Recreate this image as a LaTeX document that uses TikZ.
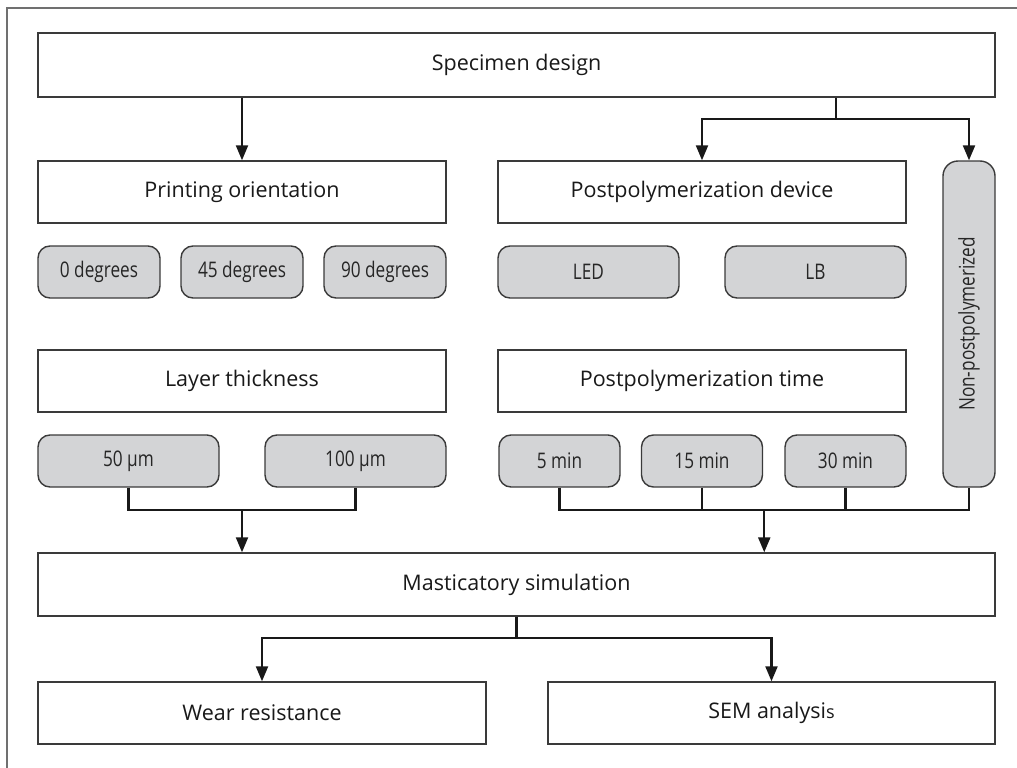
\documentclass[tikz,border=0pt]{standalone}
\usepackage{fontspec}
\setmainfont{Open Sans}
\newfontfamily\condfont{Open Sans}[FakeStretch=0.8]
\usetikzlibrary{arrows.meta}
\definecolor{boxline}{HTML}{3A3A3A}
\definecolor{grayfill}{HTML}{D3D4D6}
\definecolor{framegray}{HTML}{707070}
\begin{document}
\begin{tikzpicture}[x=1pt,y=-1pt,
  hbox/.style={draw=boxline, line width=1.4pt, fill=white, inner sep=0pt,
    font=\fontsize{21.5}{24}\selectfont, text=black!90},
  gbox/.style={draw=boxline, line width=1.4pt, fill=grayfill, rounded corners=12pt,
    inner sep=0pt, font=\condfont\fontsize{21.5}{24}\selectfont, text=black!85},
  conn/.style={line width=2.2pt, draw=black!90},
  arr/.style={conn, -{Triangle[width=12pt,length=15pt]}}]
\useasboundingbox (0,0) rectangle (1017,768);
\draw[framegray, line width=2pt] (7,768) -- (7,8) -- (1017,8);

\node[hbox, minimum width=957pt, minimum height=64pt] (spec) at (516.5,65) {Specimen design};
\node[hbox, minimum width=408pt, minimum height=62pt] (po) at (242,192) {Printing orientation};
\node[hbox, minimum width=408pt, minimum height=62pt] (pd) at (702,192) {Postpolymerization device};
\node[gbox, rounded corners=15pt, minimum width=52pt, minimum height=326pt] (np) at (969,324)
  {\rotatebox{90}{Non-postpolymerized}};

\node[gbox, minimum width=122pt, minimum height=52pt] (g0) at (99,272) {0 degrees};
\node[gbox, minimum width=122pt, minimum height=52pt] (g45) at (242,272) {45 degrees};
\node[gbox, minimum width=122pt, minimum height=52pt] (g90) at (385,272) {90 degrees};
\node[gbox, minimum width=181pt, minimum height=52pt] (led) at (588.5,272) {LED};
\node[gbox, minimum width=181pt, minimum height=52pt] (lb) at (815.5,272) {LB};

\node[hbox, minimum width=408pt, minimum height=62pt] (lt) at (242,381) {Layer thickness};
\node[hbox, minimum width=408pt, minimum height=62pt] (pt) at (702,381) {Postpolymerization time};

\node[gbox, minimum width=181pt, minimum height=52pt] (u50) at (128.5,461) {50 µm};
\node[gbox, minimum width=181pt, minimum height=52pt] (u100) at (355.5,461) {100 µm};
\node[gbox, minimum width=121pt, minimum height=52pt] (m5) at (559.5,461) {5 min};
\node[gbox, minimum width=121pt, minimum height=52pt] (m15) at (702,461) {15 min};
\node[gbox, minimum width=121pt, minimum height=52pt] (m30) at (845.5,461) {30 min};

\node[hbox, minimum width=957pt, minimum height=63pt] (mast) at (516.5,584.5) {Masticatory simulation};
\node[hbox, minimum width=448pt, minimum height=62pt] (wear) at (262,713) {Wear resistance};
\node[hbox, minimum width=447pt, minimum height=62pt] (sem) at (771.5,713) {SEM analysi{\fontsize{18}{22}\selectfont s}};

% connectors
\draw[arr] (spec.south -| po.north) -- (po.north);
\coordinate (j1) at (836,119);
\draw[conn] (spec.south -| j1) -- (j1);
\draw[arr] (j1) -| (pd.north);
\draw[arr] (j1) -| (np.north);

\coordinate (j2) at (242,510);
\draw[conn] (u50.south) |- (j2) -| (u100.south);
\draw[arr] (j2) -- (mast.north -| j2);

\coordinate (j3) at (764.25,510);
\draw[conn] (m5.south) |- (j3) -| (np.south);
\draw[conn] (m15.south) -- (m15.south |- j3);
\draw[conn] (m30.south) -- (m30.south |- j3);
\draw[arr] (j3) -- (mast.north -| j3);

\coordinate (j4) at (516.5,638);
\draw[conn] (mast.south) -- (j4);
\draw[arr] (j4) -| (wear.north);
\draw[arr] (j4) -| (sem.north);
\end{tikzpicture}
\end{document}
